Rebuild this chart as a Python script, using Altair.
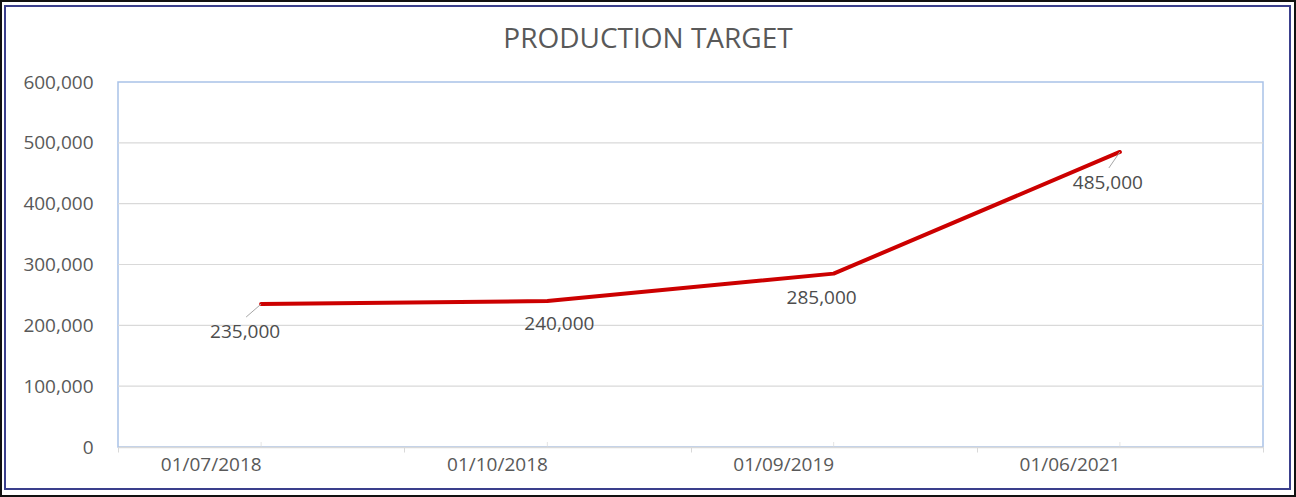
import altair as alt
import pandas as pd

title_text = "PRODUCTION TARGET"
dates = ["01/07/2018", "01/10/2018", "01/09/2019", "01/06/2021"]
targets = [235000, 240000, 285000, 485000]
y_ticks = [0, 100000, 200000, 300000, 400000, 500000, 600000]

# label placement (style only): (dx, dy) per label, and leader line offsets
label_offsets = [(-16, 28), (12, 23), (-12, 24), (-12, 31)]
leader_offsets = [(-15, 13), None, None, (-11, 16)]

df = pd.DataFrame({"date": dates, "target": targets, "idx": list(range(len(dates)))})
grid_df = pd.DataFrame({"g": [v for v in y_ticks if 0 < v < max(y_ticks)]})

W, H = 1145, 365
PAD_L, PAD_T, PAD_R, PAD_B = 118, 82, 33, 50
FONT = "Open Sans"
TXT = "#595959"
GRID = "#D9D9D9"
FS = 19

x_enc = alt.X("date:N", sort=dates, bandPosition=0.5,
              scale=alt.Scale(type="band", paddingInner=0, paddingOuter=0),
              axis=alt.Axis(title=None, labelAngle=0, labelFont=FONT, labelFontSize=FS,
                            labelColor=TXT, labelPadding=12, domainColor=GRID,
                            domainWidth=1.5, tickColor=GRID, tickSize=5,
                            tickBand="extent", grid=False))
y_enc = alt.Y("target:Q", scale=alt.Scale(domain=[0, 600000], nice=False),
              axis=alt.Axis(title=None, values=y_ticks, format=",d", labelFont=FONT,
                            labelFontSize=FS, labelColor=TXT, labelPadding=25,
                            domain=False, ticks=False, grid=False))

base = alt.Chart(df)

gridlines = alt.Chart(grid_df).mark_rule(color=GRID, strokeWidth=1.2).encode(
    y=alt.Y("g:Q"))

line = base.mark_line(color="#CC0000", strokeWidth=4, strokeCap="round",
                      strokeJoin="round").encode(x=x_enc, y=y_enc)

inner_ticks = base.mark_tick(orient="vertical", size=5, thickness=1, color=GRID,
                             yOffset=-2.5).encode(
    x=alt.X("date:N", sort=dates, bandPosition=0.5), y=alt.datum(0))

layers = [gridlines, inner_ticks, line]

for i, (dx, dy) in enumerate(label_offsets):
    layers.append(
        base.transform_filter(alt.datum.idx == i).mark_text(
            font=FONT, fontSize=FS, color="#4D4D4D", dx=dx, dy=dy, baseline="middle"
        ).encode(x=alt.X("date:N", sort=dates, bandPosition=0.5), y="target:Q",
                 text=alt.Text("target:Q", format=",d"))
    )

for i, off in enumerate(leader_offsets):
    if off is None:
        continue
    layers.append(
        base.transform_filter(alt.datum.idx == i).mark_rule(
            color="#A6A6A6", strokeWidth=1, x2Offset=off[0], y2Offset=off[1]
        ).encode(x=alt.X("date:N", sort=dates, bandPosition=0.5), y="target:Q",
                 x2=alt.X2("date:N", bandPosition=0.5), y2="target:Q")
    )

# chart title as a text mark placed above the plot area
title = alt.Chart(pd.DataFrame({"t": [title_text]})).mark_text(
    font=FONT, fontSize=28, color=TXT, baseline="middle", align="center"
).encode(text="t:N", x=alt.value(648 - PAD_L), y=alt.value(40 - PAD_T))

# outer frame (decoration)
frame_outer = alt.Chart(df).mark_rect(fillOpacity=0, stroke="#111111", strokeWidth=2).encode(
    x=alt.value(-PAD_L + 1), x2=alt.value(W + PAD_R - 1),
    y=alt.value(-PAD_T + 1), y2=alt.value(H + PAD_B - 1))
frame_inner = alt.Chart(df).mark_rect(fillOpacity=0, stroke="#3A3F8C", strokeWidth=1.5).encode(
    x=alt.value(-PAD_L + 5), x2=alt.value(W + PAD_R - 6),
    y=alt.value(-PAD_T + 6), y2=alt.value(H + PAD_B - 8))

chart = alt.layer(*layers, title, frame_outer, frame_inner).properties(
    width=W, height=H, background="white",
    autosize=alt.AutoSizeParams(type="none"),
    padding={"left": PAD_L, "top": PAD_T, "right": PAD_R, "bottom": PAD_B},
).configure_view(stroke="#A9C2E8", strokeWidth=1.5)

chart.save("out.html", embed_options={"renderer": "svg", "actions": False})
